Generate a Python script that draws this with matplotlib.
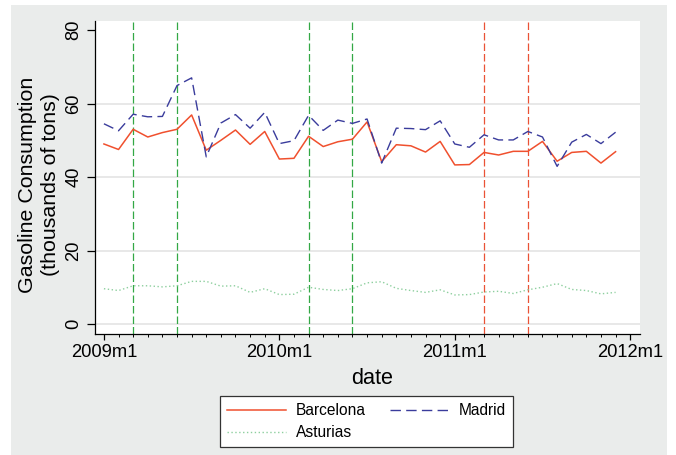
import matplotlib
matplotlib.use("Agg")
import matplotlib.pyplot as plt
from matplotlib.patches import Rectangle
import numpy as np

plt.rcParams['font.family'] = ['Liberation Sans', 'DejaVu Sans']

# monthly data, 2009m1 .. 2011m12
months = np.arange(36)
barcelona = [49.0, 47.5, 53.0, 50.9, 52.1, 53.0, 56.9, 47.3, 50.0, 52.8, 48.9, 52.4,
             44.9, 45.1, 51.1, 48.3, 49.6, 50.3, 55.0, 44.2, 48.8, 48.5, 46.8, 49.7,
             43.3, 43.4, 46.7, 46.0, 47.0, 47.0, 49.7, 44.3, 46.7, 47.0, 43.8, 46.9]
madrid = [54.5, 52.6, 57.1, 56.4, 56.5, 64.9, 67.0, 45.5, 54.7, 57.0, 53.3, 57.6,
          49.1, 49.9, 56.8, 52.7, 55.5, 54.6, 55.8, 43.8, 53.3, 53.2, 52.9, 55.3,
          49.0, 48.1, 51.5, 50.1, 50.1, 52.4, 50.9, 42.9, 49.5, 51.6, 49.1, 52.2]
asturias = [9.6, 9.1, 10.4, 10.4, 10.1, 10.4, 11.6, 11.6, 10.3, 10.4, 8.6, 9.6,
            8.0, 8.1, 10.0, 9.4, 9.1, 9.6, 11.2, 11.5, 9.7, 9.1, 8.6, 9.3,
            7.9, 8.0, 8.7, 8.9, 8.3, 9.3, 10.0, 11.0, 9.4, 9.1, 8.2, 8.6]

green_lines = [2, 5, 14, 17]   # 2009m3, 2009m6, 2010m3, 2010m6
red_lines = [26, 29]           # 2011m3, 2011m6

xtick_pos = [0, 12, 24, 36]
xtick_labels = ["2009m1", "2010m1", "2011m1", "2012m1"]
ytick_pos = [0, 20, 40, 60, 80]

W, H = 676, 455
fig = plt.figure(figsize=(W / 100, H / 100), dpi=100)
fig.patch.set_facecolor('white')
fig.patches.append(Rectangle((11 / W, 0), (667 - 11) / W, (H - 5) / H,
                             transform=fig.transFigure, facecolor='#eaeceb',
                             edgecolor='none', zorder=-10))

ax = fig.add_axes([95 / W, 1 - 334 / H, (640 - 95) / W, (334 - 20.7) / H])
ax.set_facecolor('white')

for m in green_lines:
    ax.axvline(m, color='#33a845', lw=0.9, dashes=(6, 2.4), zorder=1)
for m in red_lines:
    ax.axvline(m, color='#ea5236', lw=0.9, dashes=(6, 2.4), zorder=1)

ax.plot(months, barcelona, color='#f0502e', lw=1.1, label='Barcelona', zorder=3)
ax.plot(months, asturias, color='#8dcf9e', lw=1.0, linestyle=(0, (1, 1.8)),
        label='Asturias', zorder=3)
l, = ax.plot(months, madrid, color='#3a3c9c', lw=1.0, label='Madrid', zorder=3)
l.set_dashes((7.5, 3.8))

ax.set_xlim(-0.61, 36.67)
ax.set_ylim(-2.73, 82.56)

for s in ['top', 'right']:
    ax.spines[s].set_visible(False)
for s in ['left', 'bottom']:
    ax.spines[s].set_linewidth(0.9)
    ax.spines[s].set_color('black')

ax.set_yticks(ytick_pos)
ax.set_yticklabels([str(v) for v in ytick_pos], rotation=90, va='center', fontsize=13.2)
ax.set_xticks(xtick_pos)
ax.set_xticklabels(xtick_labels, fontsize=13.2)
ax.set_xticks(months, minor=True)
ax.tick_params(axis='y', length=5.5, width=0.9, pad=3.5)
ax.tick_params(axis='x', which='major', length=4.4, width=0.9, pad=3.0)
ax.tick_params(axis='x', which='minor', length=2.4, width=0.7)

for v in [0, 20, 40, 60]:
    ax.axhline(v, color='#e4e4e4', lw=1.2, zorder=0)

ax.set_ylabel("Gasoline Consumption\n(thousands of tons)", fontsize=15.4,
              linespacing=1.3, va='center', ha='center')
ax.yaxis.set_label_coords((39 - 95) / 545, (334 - 184.5) / 313.3)
ax.set_xlabel("date", fontsize=15.6, va='center')
ax.xaxis.set_label_coords((372 - 95) / 545, (334 - 378) / 313.3)

handles, labels = ax.get_legend_handles_labels()
leg = fig.legend(handles, labels,
                 ncol=2, loc='center',
                 bbox_to_anchor=(366.5 / W, 1 - 421.5 / H),
                 fontsize=11.2, frameon=True, fancybox=False, shadow=False,
                 edgecolor='#333333', facecolor='white', framealpha=1,
                 handlelength=3.8, handletextpad=0.6, columnspacing=1.6,
                 labelspacing=0.45, borderpad=0.45)
leg.get_frame().set_linewidth(0.9)

fig.savefig("out.png", dpi=100, facecolor=fig.get_facecolor())
